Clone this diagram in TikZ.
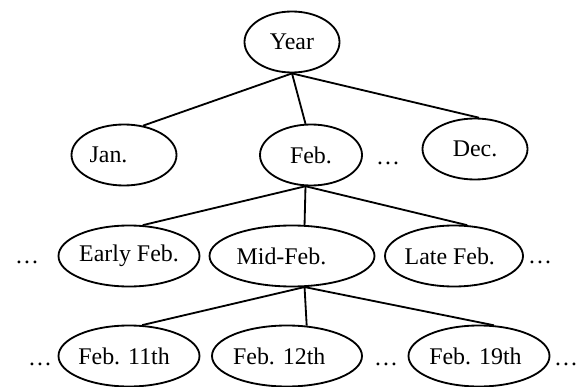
\documentclass[tikz,border=0pt]{standalone}
\usepackage{fontspec}
\setmainfont{Liberation Serif}
\usepackage{tikz}
\usetikzlibrary{shapes.geometric, positioning}
\tikzset{
  oval/.style={ellipse, draw=black, line width=1.3pt, inner sep=0pt, minimum height=61*0.025cm, font=\fontsize{17}{20}\selectfont},
  dots/.style={font=\fontsize{17}{20}\selectfont, inner sep=0pt},
  link/.style={line width=1.3pt}
}
% texto un poco a la izquierda dentro del ovalo
\newcommand{\shiftl}[1]{\hspace*{-#1}}

\begin{document}
\begin{tikzpicture}[x=0.025cm, y=-0.025cm]

    \useasboundingbox (0,0) rectangle (579,387);

    % 1. Raiz
    \node[oval, minimum width=95*0.025cm] (year) at (292,42) {Year};

    % 2. Meses
    \node[oval, minimum width=105*0.025cm] (jan) at (124,155) {\shiftl{22pt}Jan.};
    \node[oval, minimum width=102*0.025cm] (feb) at (311,155) {Feb.};
    \node[oval, minimum width=105*0.025cm] (dec) at (475,149) {Dec.};
    \node[dots] (dotsM) at (388,163) {\ldots};

    \draw[link] (year.south) -- (jan.57);
    \draw[link] (year.south) -- (feb.100);
    \draw[link] (year.south) -- (dec.83);

    % 3. Decenas de febrero
    \node[oval, minimum width=141*0.025cm] (early) at (129,256) {Early Feb.};
    \node[oval, minimum width=165*0.025cm] (mid) at (292,256) {\shiftl{15pt}Mid-Feb.};
    \node[oval, minimum width=138*0.025cm] (late) at (454,256) {\shiftl{6pt}Late Feb.};
    \node[dots] (dotsTL) at (27,262) {\ldots};
    \node[dots] (dotsTR) at (540,262) {\ldots};

    \draw[link] (feb.260) -- (early.66);
    \draw[link] (feb.260) -- (mid.68);
    \draw[link] (feb.260) -- (late.67);

    % 4. Dias
    \node[oval, minimum width=141*0.025cm] (d11) at (129,356) {\shiftl{7pt}Feb. 11th};
    \node[oval, minimum width=150*0.025cm] (d12) at (287,356) {\shiftl{11pt}Feb. 12th};
    \node[oval, minimum width=141*0.025cm] (d19) at (479,356) {\shiftl{5pt}Feb. 19th};
    \node[dots] (dotsDL) at (40,364) {\ldots};
    \node[dots] (dotsDM) at (386,364) {\ldots};
    \node[dots] (dotsDR) at (566,364) {\ldots};

    \draw[link] (mid.292) -- (d11.67);
    \draw[link] (mid.292) -- (d12.57);
    \draw[link] (mid.292) -- (d19.64);

\end{tikzpicture}
\end{document}
